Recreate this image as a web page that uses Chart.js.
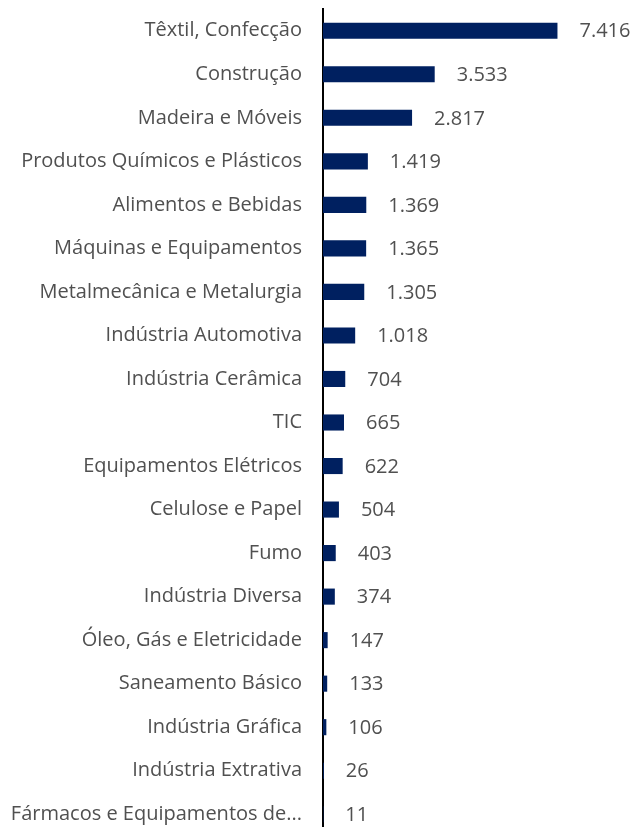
<!DOCTYPE html>
<html lang="pt-BR">
<head>
<meta charset="UTF-8">
<title>Setores</title>
<script src="https://cdn.jsdelivr.net/npm/chart.js"></script>
<style>
  html, body { margin: 0; padding: 0; background: #fff; overflow: hidden; }
  #wrap { position: relative; width: 636px; height: 836px; }
</style>
</head>
<body>
<div id="wrap"><canvas id="setores"></canvas></div>
<script>
const setores = [
  'Têxtil, Confecção', 'Construção', 'Madeira e Móveis', 'Produtos Químicos e Plásticos',
  'Alimentos e Bebidas', 'Máquinas e Equipamentos', 'Metalmecânica e Metalurgia',
  'Indústria Automotiva', 'Indústria Cerâmica', 'TIC', 'Equipamentos Elétricos',
  'Celulose e Papel', 'Fumo', 'Indústria Diversa', 'Óleo, Gás e Eletricidade',
  'Saneamento Básico', 'Indústria Gráfica', 'Indústria Extrativa', 'Fármacos e Equipamentos de...'
];
const valores = [7416, 3533, 2817, 1419, 1369, 1365, 1305, 1018, 704, 665, 622, 504, 403, 374, 147, 133, 106, 26, 11];

const corTexto = '#505050';
const fonte = '"Open Sans", sans-serif';

// rótulos de valor à direita das barras
const rotulos = {
  id: 'rotulos',
  afterDatasetsDraw(chart) {
    const ctx = chart.ctx;
    const meta = chart.getDatasetMeta(0);
    ctx.save();
    ctx.font = '20px ' + fonte;
    ctx.fillStyle = corTexto;
    ctx.textAlign = 'left';
    ctx.textBaseline = 'middle';
    meta.data.forEach((bar, i) => {
      ctx.fillText(valores[i].toLocaleString('pt-BR'), bar.x + 22, bar.y + 1);
    });
    ctx.restore();
  }
};

new Chart(document.getElementById('setores'), {
  type: 'bar',
  data: {
    labels: setores,
    datasets: [{
      data: valores,
      backgroundColor: '#002060',
      barPercentage: 0.37,
      categoryPercentage: 1
    }]
  },
  options: {
    indexAxis: 'y',
    responsive: true,
    maintainAspectRatio: false,
    animation: false,
    layout: { padding: { top: 9, right: 0, bottom: 0, left: 0 } },
    plugins: { legend: { display: false }, tooltip: { enabled: false } },
    scales: {
      x: {
        display: false,
        min: 0,
        max: 9900
      },
      y: {
        afterFit: (axis) => {
          axis.width = 323;
          axis.paddingTop = 0;
          axis.paddingBottom = 0;
        },
        grid: { display: false, drawTicks: false },
        border: { display: true, color: '#000', width: 2 },
        ticks: {
          color: corTexto,
          font: { size: 20, family: fonte },
          padding: 21,
          autoSkip: false
        }
      }
    }
  },
  plugins: [rotulos]
});
</script>
</body>
</html>
